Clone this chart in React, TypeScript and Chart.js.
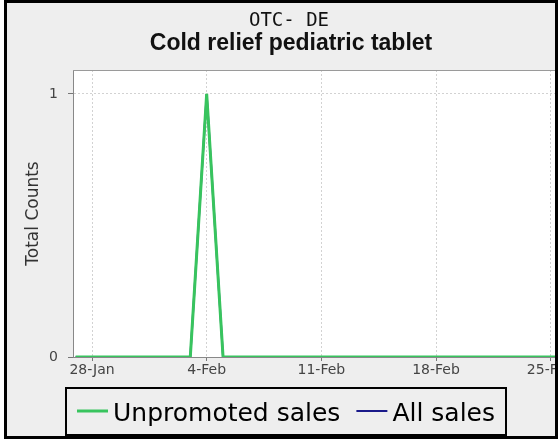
import React, { useEffect, useRef } from 'react';
import { Chart, registerables } from 'chart.js';

Chart.register(...registerables);

const chartTitle = 'OTC- DE';
const chartSubtitle = 'Cold relief pediatric tablet';
const yAxisTitle = 'Total Counts';

const dates = [
  '27-Jan', '28-Jan', '29-Jan', '30-Jan', '31-Jan',
  '1-Feb', '2-Feb', '3-Feb', '4-Feb', '5-Feb', '6-Feb', '7-Feb', '8-Feb', '9-Feb',
  '10-Feb', '11-Feb', '12-Feb', '13-Feb', '14-Feb', '15-Feb', '16-Feb', '17-Feb',
  '18-Feb', '19-Feb', '20-Feb', '21-Feb', '22-Feb', '23-Feb', '24-Feb', '25-Feb',
  '26-Feb', '27-Feb',
];

const unpromotedSales = [
  0, 0, 0, 0, 0,
  0, 0, 0, 1, 0, 0, 0, 0, 0,
  0, 0, 0, 0, 0, 0, 0, 0,
  0, 0, 0, 0, 0, 0, 0, 0,
  0, 0,
];

const allSales = [
  0, 0, 0, 0, 0,
  0, 0, 0, 1, 0, 0, 0, 0, 0,
  0, 0, 0, 0, 0, 0, 0, 0,
  0, 0, 0, 0, 0, 0, 0, 0,
  0, 0,
];

const tickDates = ['28-Jan', '4-Feb', '11-Feb', '18-Feb', '25-Feb'];
const yTickValues = [0, 1];

const seriesNames = ['Unpromoted sales', 'All sales'];
const seriesColors = ['#38c45e', '#1a1a8a'];

const SANS = "'DejaVu Sans', sans-serif";

const frameTextPlugin = {
  id: 'frameText',
  beforeDraw(chart: any) {
    const { ctx, chartArea } = chart;
    ctx.save();
    ctx.fillStyle = '#ffffff';
    ctx.fillRect(chartArea.left, chartArea.top, chartArea.right - chartArea.left, chartArea.bottom - chartArea.top);
    ctx.restore();
  },
  beforeDatasetsDraw(chart: any) {
    const { ctx, chartArea } = chart;
    ctx.save();
    ctx.strokeStyle = '#9a9a9a';
    ctx.lineWidth = 1;
    ctx.beginPath();
    ctx.moveTo(chartArea.left, chartArea.top + 0.5);
    ctx.lineTo(chartArea.right, chartArea.top + 0.5);
    ctx.stroke();
    ctx.restore();
  },
  afterDraw(chart: any) {
    const { ctx } = chart;
    ctx.save();
    // titles
    ctx.fillStyle = '#111';
    ctx.textAlign = 'center';
    ctx.textBaseline = 'alphabetic';
    ctx.font = "19px 'DejaVu Sans Mono', monospace";
    ctx.fillText(chartTitle, 282, 23);
    ctx.font = "bold 23px 'Liberation Sans', sans-serif";
    ctx.fillText(chartSubtitle, 284, 47);

    // legend
    const boxL = 59, boxT = 385, boxR = 499, boxB = 432;
    ctx.strokeStyle = '#000';
    ctx.lineWidth = 2;
    ctx.strokeRect(boxL, boxT, boxR - boxL, boxB - boxT);
    ctx.font = '25px ' + SANS;
    ctx.textAlign = 'left';
    let x = boxL + 11;
    const lineY = 408;
    const textY = 418;
    chart.data.datasets.forEach((ds: any, i: number) => {
      ctx.strokeStyle = ds.borderColor;
      ctx.lineWidth = i === 0 ? 3 : 2;
      ctx.beginPath();
      ctx.moveTo(x, lineY);
      ctx.lineTo(x + 31, lineY);
      ctx.stroke();
      x += 36;
      ctx.fillStyle = '#000';
      ctx.fillText(ds.label, x, textY);
      x += ctx.measureText(ds.label).width + 16;
    });
    ctx.restore();
  },
};

export default function App() {
  const ref = useRef<HTMLCanvasElement>(null);

  useEffect(() => {
    const canvas = ref.current!;
    const chart = new Chart(canvas, {
      type: 'line',
      data: {
        datasets: [
          {
            label: seriesNames[0],
            data: dates.map((d, i) => ({ x: i, y: unpromotedSales[i] })),
            borderColor: seriesColors[0],
            backgroundColor: seriesColors[0],
            borderWidth: 3,
            pointRadius: 0,
            tension: 0,
          },
          {
            label: seriesNames[1],
            data: dates.map((d, i) => ({ x: i, y: allSales[i] })),
            borderColor: seriesColors[1],
            backgroundColor: seriesColors[1],
            borderWidth: 2,
            pointRadius: 0,
            tension: 0,
          },
        ],
      },
      options: {
        animation: false,
        responsive: false,
        devicePixelRatio: 1,
        layout: { padding: { left: 0, right: 26, top: 67, bottom: 50 } },
        plugins: {
          legend: { display: false },
          title: { display: false },
          tooltip: { enabled: false },
        },
        scales: {
          x: {
            type: 'linear',
            min: -0.16,
            max: 30.85,
            afterFit: (s: any) => { s.height = 29; },
            afterBuildTicks: (s: any) => { s.ticks = tickDates.map((d) => ({ value: dates.indexOf(d) })); },
            grid: {
              color: '#d2d2d2',
              tickBorderDash: [],
              tickColor: '#777',
              tickLength: 4,
            } as any,
            border: { display: true, color: '#888', dash: [2, 2] } as any,
            ticks: {
              autoSkip: false,
              maxRotation: 0,
              padding: 1,
              color: '#444',
              font: { family: SANS, size: 14 },
              callback: (v: any) => dates[v as number] ?? '',
            },
          },
          y: {
            type: 'linear',
            min: 0,
            max: 1.091,
            afterFit: (s: any) => { s.width = 66; },
            afterBuildTicks: (s: any) => { s.ticks = yTickValues.map((v) => ({ value: v })); },
            grid: {
              color: '#d2d2d2',
              tickBorderDash: [],
              tickColor: '#777',
              tickLength: 5,
            } as any,
            border: { display: true, color: '#888', dash: [2, 2] } as any,
            ticks: {
              padding: 10,
              color: '#444',
              font: { family: SANS, size: 14 },
              callback: (v: any) => String(v),
            },
            title: {
              display: true,
              text: yAxisTitle,
              color: '#333',
              font: { family: SANS, size: 17 },
              padding: { top: 16, bottom: 0 },
            },
          },
        },
      },
      plugins: [frameTextPlugin],
    });
    return () => chart.destroy();
  }, []);

  return (
    <div
      style={{
        position: 'fixed',
        left: 4,
        top: 0,
        width: 554,
        height: 439,
        boxSizing: 'border-box',
        border: '3px solid #000',
        background: '#eeeeee',
        overflow: 'hidden',
      }}
    >
      <canvas ref={ref} width={600} height={433} style={{ display: 'block', width: 600, height: 433 }} />
    </div>
  );
}
